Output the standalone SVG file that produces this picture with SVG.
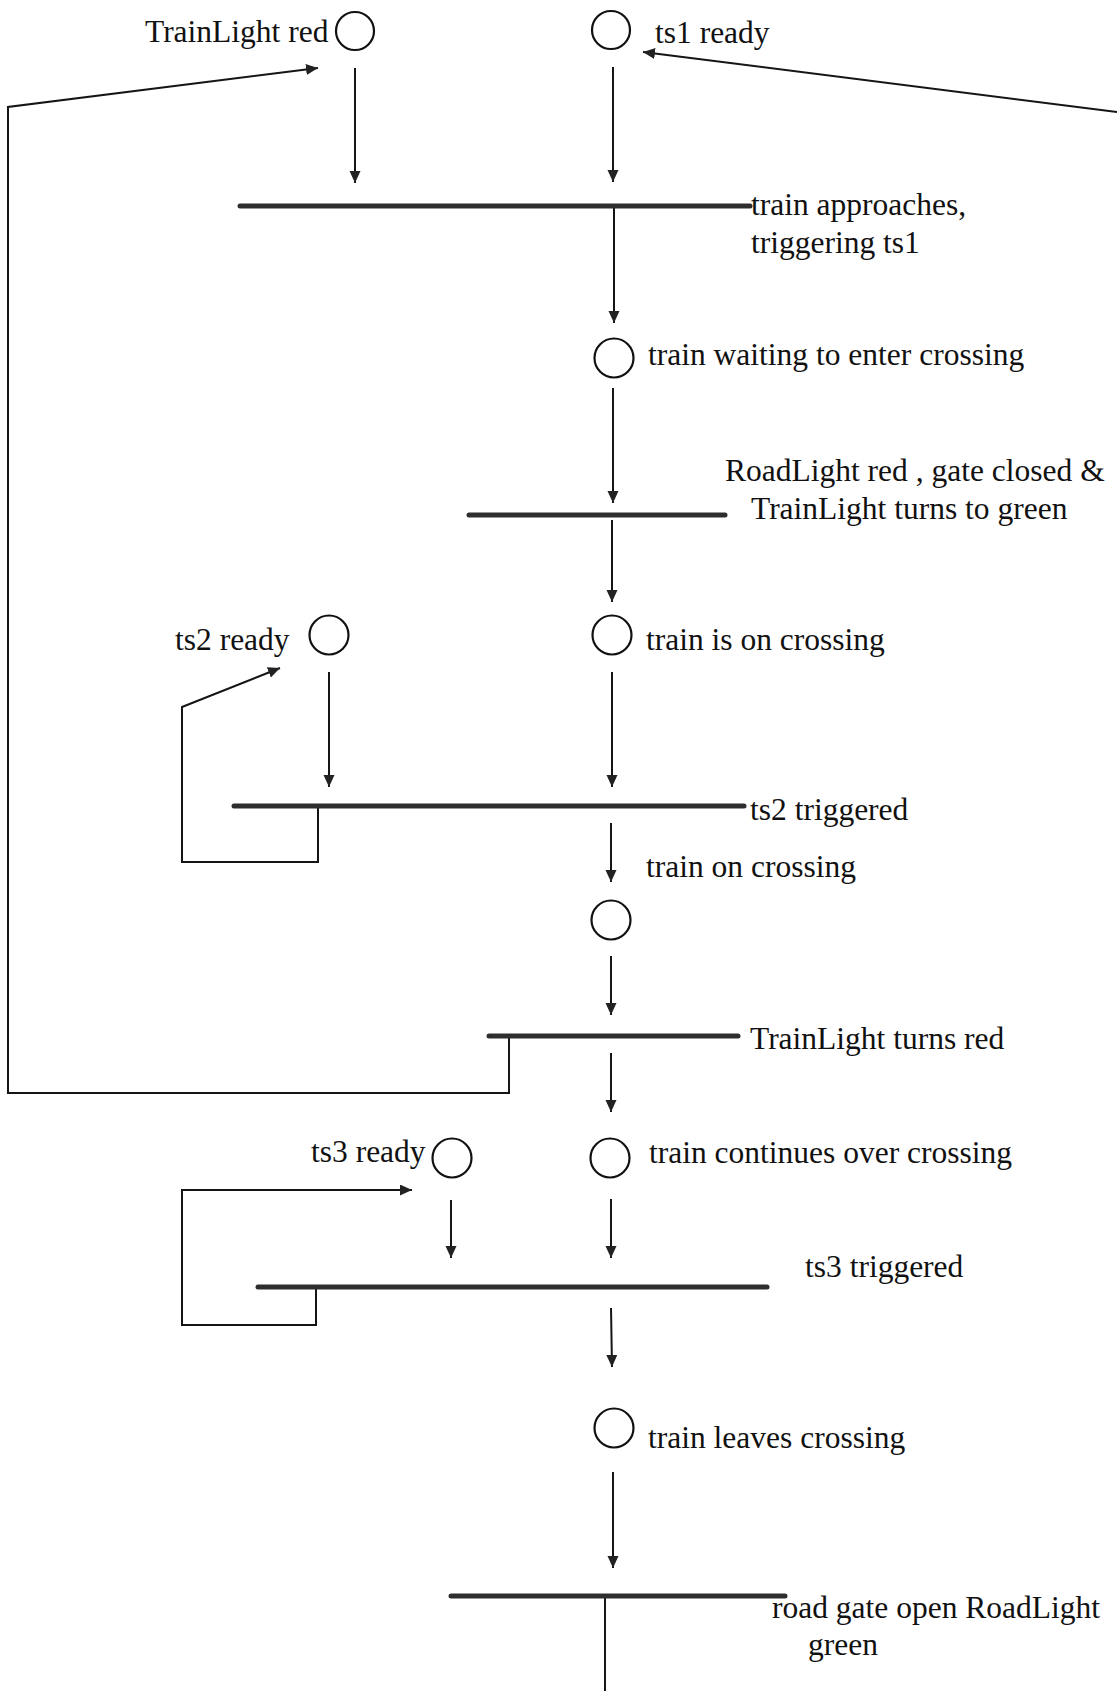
<svg xmlns="http://www.w3.org/2000/svg" width="1117" height="1691" viewBox="0 0 1117 1691">
<style>
  text { font-family: "Liberation Serif", "Times New Roman", serif; font-size: 31.5px; fill: #111; }
  .place { fill: none; stroke: #111; stroke-width: 2.2; }
  .bar { stroke: #2e2e2e; stroke-width: 5; stroke-linecap: round; fill: none; }
  .conn { stroke: #151515; stroke-width: 2; fill: none; }
  .arr { marker-end: url(#ah); }
</style>
<defs>
  <marker id="ah" markerUnits="userSpaceOnUse" markerWidth="14" markerHeight="14" refX="12" refY="5.5" orient="auto">
    <path d="M0,0 L12,5.5 L0,11 z" fill="#222"/>
  </marker>
</defs>
<rect width="1117" height="1691" fill="#fff"/>

<g id="connectors">
  <line class="conn arr" x1="355" y1="68" x2="355" y2="183"/>
  <line class="conn arr" x1="613" y1="67" x2="613" y2="182"/>
  <line class="conn arr" x1="614" y1="208" x2="614" y2="323"/>
  <line class="conn arr" x1="613" y1="388" x2="613" y2="503"/>
  <line class="conn arr" x1="612" y1="520" x2="612" y2="602"/>
  <line class="conn arr" x1="612" y1="672" x2="612" y2="787"/>
  <line class="conn arr" x1="329" y1="672" x2="329" y2="787"/>
  <line class="conn arr" x1="611" y1="823" x2="611" y2="882"/>
  <line class="conn arr" x1="611" y1="956" x2="611" y2="1015"/>
  <line class="conn arr" x1="611" y1="1053" x2="611" y2="1112"/>
  <line class="conn arr" x1="611" y1="1199" x2="611" y2="1258"/>
  <line class="conn arr" x1="451" y1="1200" x2="451" y2="1258"/>
  <line class="conn arr" x1="611" y1="1308" x2="612" y2="1367"/>
  <line class="conn arr" x1="613" y1="1472" x2="613" y2="1568"/>
  <line class="conn" x1="605" y1="1596" x2="605" y2="1691"/>
  <polyline class="conn arr" points="509,1036 509,1093 8,1093 8,107 318,68"/>
  <line class="conn arr" x1="1117" y1="112" x2="643" y2="52"/>
  <polyline class="conn arr" points="318,807 318,862 182,862 182,707 280,668"/>
  <polyline class="conn arr" points="316,1288 316,1325 182,1325 182,1190 412,1190"/>
</g>

<g id="p-trainlight-red">
  <circle class="place" cx="355" cy="31" r="19"/>
  <text x="145" y="42">TrainLight red</text>
</g>
<g id="p-ts1-ready">
  <circle class="place" cx="611" cy="30" r="19"/>
  <text x="655" y="43">ts1 ready</text>
</g>
<g id="t-train-approaches">
  <line class="bar" x1="240" y1="206" x2="750" y2="206"/>
  <text x="751" y="215">train approaches,</text>
  <text x="751" y="253">triggering ts1</text>
</g>
<g id="p-train-waiting">
  <circle class="place" cx="614" cy="358" r="19.5"/>
  <text x="648" y="365">train waiting to enter crossing</text>
</g>
<g id="t-roadlight-red">
  <line class="bar" x1="469" y1="515" x2="725" y2="515"/>
  <text x="725" y="481">RoadLight red , gate closed &amp;</text>
  <text x="751" y="519">TrainLight turns to green</text>
</g>
<g id="p-train-on-crossing">
  <circle class="place" cx="612" cy="635" r="19.5"/>
  <text x="646" y="650">train is on crossing</text>
</g>
<g id="p-ts2-ready">
  <circle class="place" cx="329" cy="635" r="19.5"/>
  <text x="175" y="650">ts2 ready</text>
</g>
<g id="t-ts2-triggered">
  <line class="bar" x1="234" y1="806" x2="744" y2="806"/>
  <text x="750" y="820">ts2 triggered</text>
</g>
<g id="p-train-on-crossing-2">
  <text x="646" y="877">train on crossing</text>
  <circle class="place" cx="611" cy="920" r="19.5"/>
</g>
<g id="t-trainlight-turns-red">
  <line class="bar" x1="489" y1="1036" x2="738" y2="1036"/>
  <text x="750" y="1049">TrainLight turns red</text>
</g>
<g id="p-train-continues">
  <circle class="place" cx="610" cy="1158" r="19.5"/>
  <text x="649" y="1163">train continues over crossing</text>
</g>
<g id="p-ts3-ready">
  <circle class="place" cx="452" cy="1158" r="19.5"/>
  <text x="311" y="1162">ts3 ready</text>
</g>
<g id="t-ts3-triggered">
  <line class="bar" x1="258" y1="1287" x2="767" y2="1287"/>
  <text x="805" y="1277">ts3 triggered</text>
</g>
<g id="p-train-leaves">
  <circle class="place" cx="614" cy="1428" r="19.5"/>
  <text x="648" y="1448">train leaves crossing</text>
</g>
<g id="t-road-gate-open">
  <line class="bar" x1="451" y1="1596" x2="785" y2="1596"/>
  <text x="772" y="1618">road gate open RoadLight</text>
  <text x="808" y="1655">green</text>
</g>
</svg>
